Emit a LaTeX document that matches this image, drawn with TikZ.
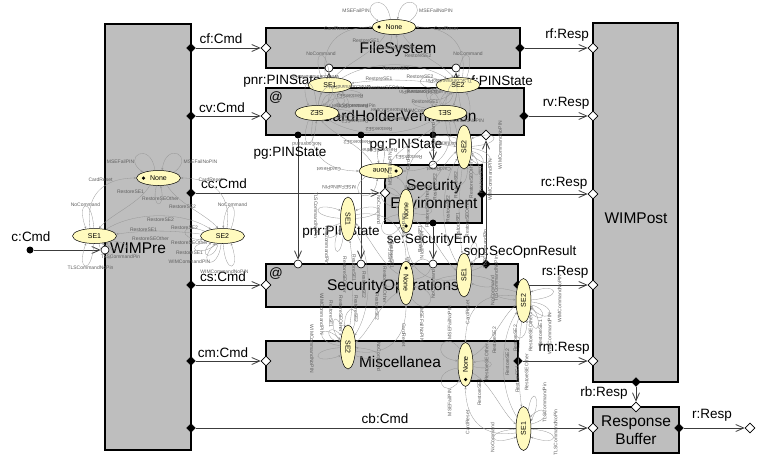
\documentclass[tikz,border=0pt]{standalone}
\usepackage{fontspec}
\setmainfont{Liberation Sans}
\usetikzlibrary{shapes.geometric,arrows.meta}
\definecolor{boxgray}{RGB}{190,190,190}
\definecolor{stfill}{RGB}{255,250,190}
\definecolor{wirec}{RGB}{60,60,60}
\definecolor{transc}{RGB}{150,150,150}
\definecolor{tlabc}{RGB}{95,95,95}
\tikzset{
 comp/.style={draw=black, line width=1.4pt, fill=boxgray, inner sep=0pt},
 ctext/.style={font=\fontsize{15.5}{18}\selectfont, inner sep=0pt, align=center},
 plab/.style={font=\fontsize{13.5}{14}\selectfont, inner sep=0pt},
 bdia/.style={diamond, draw=black, fill=black, line width=0.4pt, minimum width=9pt, minimum height=9pt, inner sep=0pt},
 wdia/.style={diamond, draw=black, fill=white, line width=0.6pt, minimum width=10pt, minimum height=10pt, inner sep=0pt},
 wcirc/.style={circle, draw=black, fill=white, line width=0.6pt, minimum size=8pt, inner sep=0pt},
 bcirc/.style={circle, fill=black, minimum size=7pt, inner sep=0pt},
 wire/.style={draw=wirec, line width=0.8pt, -{Straight Barb[length=8pt,width=7pt]}},
 state/.style={ellipse, draw=black, line width=0.5pt, fill=stfill, minimum width=44pt, minimum height=15pt, inner sep=0pt, font=\fontsize{7}{8}\selectfont, transform shape},
 inidot/.style={circle, fill=black, minimum size=3.5pt, inner sep=0pt, transform shape},
 trans/.style={draw=transc, line width=0.3pt, -{Stealth[length=2.5pt,width=2pt]}},
 tlab/.style={font=\fontsize{5}{5}\selectfont, text=tlabc, inner sep=0pt, transform shape},
}
\newcommand{\stmachine}[4]{%
\begin{scope}[shift={(#1,#2)}, rotate=#3]
 \node[tlab] (#4la) at (-38,-74) {MSEFailPIN};
 \node[tlab] (#4lb) at (42,-74) {MSEFailNoPIN};
 \node[tlab] (#4lc) at (-58,-56) {CardReset};
 \node[tlab] (#4ld) at (52,-56) {CardReset};
 \node[tlab] (#4le) at (-28,-44) {RestoreSE1};
 \node[tlab] (#4lf) at (2,-37) {RestoreSEOther};
 \node[tlab] (#4lg) at (24,-29) {RestoreSE2};
 \node[tlab] (#4lh) at (-73,-31) {NoCommand};
 \node[tlab] (#4li) at (74,-31) {NoCommand};
 \node[tlab] (#4lj) at (2,-16) {RestoreSE2};
 \node[tlab] (#4lk) at (-15,-6) {RestoreSE1};
 \node[tlab] (#4ll) at (-8,3) {RestoreSEOther};
 \node[tlab] (#4lm) at (26,-8) {RestoreSE2};
 \node[tlab] (#4ln) at (31,7) {RestoreSEOther};
 \node[tlab] (#4lo) at (31,17) {RestoreSE1};
 \node[tlab] (#4lp) at (31,26) {WIMCommandPIN};
 \node[tlab] (#4lq) at (66,36) {WIMCommandNoPIN};
 \node[tlab] (#4lr) at (-38,21) {TLSCommandPin};
 \node[tlab] (#4ls) at (-68,32) {TLSCommandNoPin};
 \node[state] (#4none) at (0,-58) {None};
 \node[state] (#4se1) at (-64,0) {SE1};
 \node[state] (#4se2) at (64,0) {SE2};
 \node[inidot] (#4ini) at (-15,-58) {};
 \draw[trans] (#4none.115) .. controls +(-4,-30) and +(-22,-16) .. (#4none.160);
 \draw[trans] (#4none.20) .. controls +(22,-16) and +(4,-30) .. (#4none.65);
 \draw[trans] (#4se1.120) .. controls +(-6,-40) and +(-25,0) .. (#4none.180);
 \draw[trans] (#4se2.60) .. controls +(6,-40) and +(25,0) .. (#4none.0);
 \draw[trans] (#4none.220) .. controls +(-10,18) and +(12,-14) .. (#4se1.60);
 \draw[trans] (#4none.320) .. controls +(10,18) and +(-12,-14) .. (#4se2.120);
 \draw[trans] (#4none.255) .. controls +(-6,24) and +(6,24) .. (#4none.285);
 \draw[trans] (#4se1.30) .. controls +(28,-18) and +(-28,-18) .. (#4se2.150);
 \draw[trans] (#4se2.175) .. controls +(-30,-4) and +(30,-4) .. (#4se1.5);
 \draw[trans] (#4se1.-15) .. controls +(28,4) and +(22,12) .. (#4se1.-45);
 \draw[trans] (#4se2.165) .. controls +(-25,-10) and +(-25,0) .. (#4se2.190);
 \draw[trans] (#4se2.200) .. controls +(-25,6) and +(-18,14) .. (#4se2.235);
 \draw[trans] (#4se1.95) .. controls +(-2,-32) and +(-10,-28) .. (#4se1.140);
 \draw[trans] (#4se2.40) .. controls +(10,-28) and +(2,-32) .. (#4se2.85);
 \draw[trans] (#4se1.-60) .. controls +(6,24) and +(16,16) .. (#4se1.-30);
 \draw[trans] (#4se1.-95) .. controls +(-2,32) and +(-10,28) .. (#4se1.-140);
 \draw[trans] (#4se2.-120) .. controls +(-4,18) and +(-14,14) .. (#4se2.-150);
 \draw[trans] (#4se2.-100) .. controls +(-3,28) and +(-20,22) .. (#4se2.-135);
 \draw[trans] (#4se2.-85) .. controls +(2,32) and +(10,28) .. (#4se2.-40);
\end{scope}}

\begin{document}
\begin{tikzpicture}[x=1pt,y=-1pt]
\useasboundingbox (0,0) rectangle (757,455);
% components
\node[comp, minimum width=86pt, minimum height=426pt] (wimpre) at (148,237) {};
\node[ctext] (wimpretxt) at (138,248) {WIMPre};
\node[comp, minimum width=85pt, minimum height=359pt] (wimpost) at (635.5,202.5) {};
\node[ctext] (wimposttxt) at (636,218) {WIMPost};
\node[comp, minimum width=86pt, minimum height=46pt] (rbuf) at (636,430) {};
\node[ctext] (rbuftxt) at (636,430) {Response\\Buffer};
\node[comp, minimum width=254pt, minimum height=40pt] (fs) at (393,48) {};
\node[ctext] (fstxt) at (398,49) {FileSystem};
\node[comp, minimum width=258pt, minimum height=47pt] (chv) at (395,111.5) {};
\node[ctext] (chvtxt) at (399,116) {CardHolderVerification};
\node[comp, minimum width=97pt, minimum height=58pt] (senv) at (433.5,194) {};
\node[ctext] (senvtxt) at (434,194) {Security\\Environment};
\node[comp, minimum width=252pt, minimum height=43pt] (sops) at (392,285.5) {};
\node[ctext] (sopstxt) at (393,286) {SecurityOperations};
\node[comp, minimum width=252pt, minimum height=40pt] (misc) at (392,361) {};
\node[ctext] (misctxt) at (400,362) {Miscellanea};
\node[plab] (at1) at (276,98) {@};
\node[plab] (at2) at (276,274) {@};
% ports
\node[bcirc] (cin) at (30,250) {};
\node[wcirc] (wimprein) at (105,250) {};
\node[bdia] (pcf) at (191,48) {};
\node[bdia] (pcv) at (191,116) {};
\node[bdia] (pcc) at (191,193) {};
\node[bdia] (pcs) at (191,285) {};
\node[bdia] (pcm) at (191,361) {};
\node[bdia] (pcb) at (191,428) {};
\node[wdia] (fsin) at (266,48) {};
\node[wdia] (chvin) at (266,116) {};
\node[wdia] (senvin) at (385,193) {};
\node[wdia] (sopsin) at (266,285) {};
\node[wdia] (miscin) at (266,361) {};
\node[wdia] (rbufin) at (593,428) {};
\node[bdia] (fsout) at (520,48) {};
\node[bdia] (chvout) at (524,116) {};
\node[bdia] (senvout) at (482,194) {};
\node[bdia] (sopsout) at (518,285) {};
\node[bdia] (miscout) at (518,361) {};
\node[wdia] (postf) at (593,48) {};
\node[wdia] (postv) at (593,116) {};
\node[wdia] (postc) at (593,194) {};
\node[wdia] (posts) at (593,285) {};
\node[wdia] (postm) at (593,361) {};
\node[bdia] (postb) at (636,382) {};
\node[wdia] (rbufb) at (636,407) {};
\node[bdia] (rbufout) at (679,428) {};
\node[wdia] (rout) at (750,428) {};
\node[wcirc] (fsb1) at (329,68) {};
\node[wcirc] (fsb2) at (456,68) {};
\node[bcirc] (chvt1) at (329,88) {};
\node[bcirc] (chvt2) at (456,88) {};
\node[bcirc] (chvb1) at (298,135) {};
\node[bcirc] (chvb2) at (361,135) {};
\node[bcirc] (chvb3) at (433,135) {};
\node[wdia] (chvb4) at (486,135) {};
\node[wcirc] (senvt) at (433,165) {};
\node[bcirc] (senvb) at (433,223) {};
\node[wcirc] (sopst1) at (298,264) {};
\node[wcirc] (sopst2) at (361,264) {};
\node[wcirc] (sopst3) at (433,264) {};
\node[bdia] (sopst4) at (486,264) {};
% wires
\draw[wire] (cin) -- (wimprein);
\draw[wire] (pcf) -- (fsin);
\draw[wire] (pcv) -- (chvin);
\draw[wire] (pcc) -- (senvin);
\draw[wire] (pcs) -- (sopsin);
\draw[wire] (pcm) -- (miscin);
\draw[wire] (pcb) -- (rbufin);
\draw[wire] (fsout) -- (postf);
\draw[wire] (chvout) -- (postv);
\draw[wire] (senvout) -- (postc);
\draw[wire] (sopsout) -- (posts);
\draw[wire] (miscout) -- (postm);
\draw[wire] (postb) -- (rbufb);
\draw[wire] (rbufout) -- (rout);
\draw[wire] (chvt1) -- (fsb1);
\draw[wire] (chvt2) -- (fsb2);
\draw[wire] (chvb1) -- (sopst1);
\draw[wire] (chvb2) -- (sopst2);
\draw[wire] (chvb3) -- (senvt);
\draw[wire] (senvb) -- (sopst3);
\draw[wire] (sopst4) -- (chvb4);
% wire labels
\node[plab] (lc) at (31,237) {c:Cmd};
\node[plab] (lcf) at (221,39) {cf:Cmd};
\node[plab] (lcv) at (222,108) {cv:Cmd};
\node[plab] (lcc) at (224,184) {cc:Cmd};
\node[plab] (lcs) at (223,277) {cs:Cmd};
\node[plab] (lcm) at (223,353) {cm:Cmd};
\node[plab] (lcb) at (385,419) {cb:Cmd};
\node[plab] (lrf) at (567,35) {rf:Resp};
\node[plab] (lrv) at (566,103) {rv:Resp};
\node[plab] (lrc) at (564,183) {rc:Resp};
\node[plab] (lrs) at (565,272) {rs:Resp};
\node[plab] (lrm) at (564,348) {rm:Resp};
\node[plab] (lrb) at (604,393) {rb:Resp};
\node[plab] (lr) at (712,415) {r:Resp};
\node[plab] (lpnr1) at (282,81) {pnr:PINState};
\node[plab, anchor=east] (lpnf) at (533,82) {pnf:PINState};
\node[plab] (lpg1) at (290,153) {pg:PINState};
\node[plab] (lpnr2) at (341,232) {pnr:PINState};
\node[plab] (lpg2) at (406,145) {pg:PINState};
\node[plab] (lse) at (432,240) {se:SecurityEnv};
\node[plab] (lsop) at (520,252) {sop:SecOpnResult};
% state machines
\stmachine{158.5}{236}{0}{ma}
\stmachine{394}{85}{0}{mb}
\stmachine{381}{113}{180}{mc}
\stmachine{464}{211}{90}{md}
\stmachine{348}{283}{-90}{me}
\stmachine{523.5}{364.5}{90}{mf}
\end{tikzpicture}
\end{document}
